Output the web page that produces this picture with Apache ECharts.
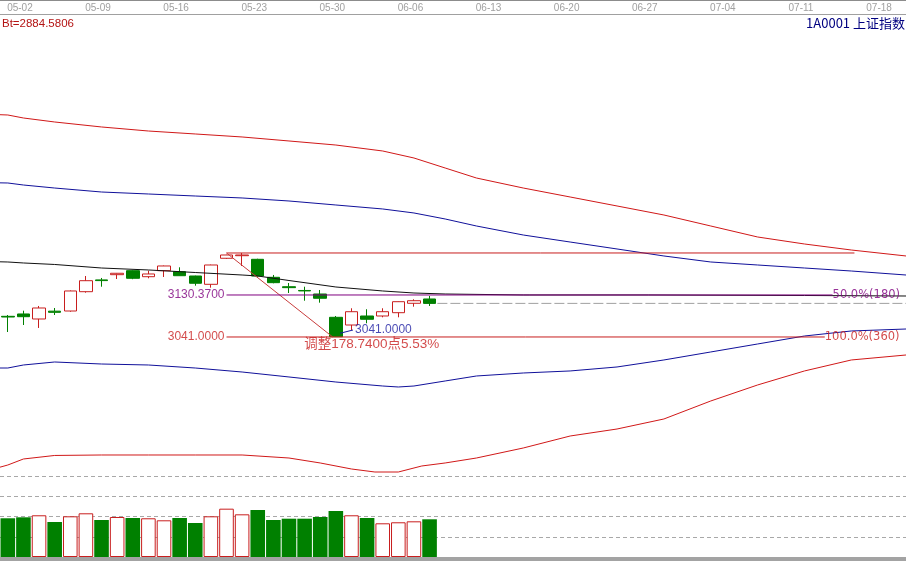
<!DOCTYPE html>
<html><head><meta charset="utf-8">
<script src="https://cdn.jsdelivr.net/npm/echarts@6/dist/echarts.min.js"></script>
<style>html,body{margin:0;padding:0;background:#fff}#c{width:906px;height:561px}</style>
</head><body><div id="c"></div><script>
// ---- categories (trading days; 05-02 is day index 0) ----
const dates = ['04-27','05-02','05-03','05-04','05-07','05-08','05-09','05-10','05-11','05-14','05-15','05-16','05-17','05-18','05-21','05-22','05-23','05-24','05-25','05-28','05-29','05-30','05-31','06-01','06-04','06-05','06-06','06-07','06-08','06-11','06-12','06-13','06-14','06-15','06-18','06-19','06-20','06-21','06-22','06-25','06-26','06-27','06-28','06-29','07-02','07-03','07-04','07-05','07-06','07-09','07-10','07-11','07-12','07-13','07-16','07-17','07-18','07-19'];

// ---- daily candles (04-27 .. 06-07) ----
const opens  = [3085.0,3090.0,3079.3,3096.0,3096.3,3137.4,3162.5,3173.6,3182.1,3169.3,3182.1,3180.0,3170.8,3153.1,3208.5,3214.0,3206.3,3168.0,3148.0,3140.0,3132.5,3082.9,3066.5,3085.7,3085.7,3092.7,3112.7,3121.9];
const closes = [3083.5,3084.2,3102.7,3093.5,3138.9,3160.8,3161.0,3176.6,3165.9,3175.1,3192.1,3171.4,3155.3,3194.2,3215.5,3215.5,3170.8,3156.6,3146.0,3139.0,3123.4,3041.6,3094.8,3078.7,3094.8,3116.1,3118.2,3112.5];
const lows   = [3051.6,3066.5,3060.2,3087.8,3094.8,3135.3,3148.0,3164.4,3164.0,3165.9,3168.7,3171.0,3150.2,3145.9,3207.0,3192.1,3170.0,3155.3,3134.6,3118.2,3114.0,3041.0,3055.9,3070.2,3082.9,3082.9,3105.5,3107.0];
const highs  = [3087.8,3097.0,3107.0,3102.7,3140.0,3170.8,3166.6,3177.2,3183.0,3182.1,3193.0,3189.3,3171.5,3195.0,3216.0,3219.74,3207.5,3173.0,3155.9,3148.0,3141.0,3085.7,3102.1,3100.0,3102.1,3116.5,3121.2,3128.2];
const volumes = [95.6,98.0,103.0,86.4,100.5,107.9,91.4,98.8,96.3,95.6,90.6,96.3,84.0,100.5,119.3,105.4,116.0,91.4,94.6,94.6,98.8,113.6,103.0,96.3,83.2,85.7,88.1,93.1];

// ---- channel lines: [day index, price] ----
const upperRed = [[-1.5,3514],[-1,3513.4],[0,3507.0],[2,3498.5],[5,3487.9],[8,3479.3],[11,3473.0],[14,3466.6],[17,3458.1],[20,3449.5],[23,3436.8],[25,3421.9],[27,3400.6],[29,3379.3],[32,3358.0],[35,3338.9],[38,3319.8],[41,3300.6],[44,3277.2],[47,3253.8],[50,3238.9],[53,3226.1],[56.5,3213.4]];
const upperBlue = [[-1.5,3369],[-1,3368.7],[0,3364.4],[2,3358.0],[5,3349.5],[8,3345.3],[11,3341.0],[14,3336.8],[17,3330.4],[20,3321.9],[23,3313.4],[25,3304.9],[27,3292.1],[29,3277.2],[32,3258.0],[35,3243.1],[38,3228.3],[41,3213.4],[44,3200.6],[47,3194.2],[50,3187.8],[53,3181.4],[56.5,3172.9]];
const midLine = [[-1.5,3201],[-1,3200.6],[0,3198.5],[2,3195.3],[5,3187.8],[8,3183.6],[11,3178.2],[14,3172.9],[15,3170.8],[17,3161.2],[20,3147.4],[23,3138.9],[25,3134.6],[27,3132.5],[32,3130.4],[40,3130.4],[50,3129.3],[56.5,3128.2]];
const lowerBlue = [[-1.5,2975],[-1,2975.0],[0,2981.4],[2,2987.8],[5,2983.5],[8,2981.4],[11,2975.0],[14,2966.5],[17,2955.9],[20,2945.2],[23,2936.7],[24,2934.6],[25,2936.7],[27,2947.4],[29,2958.0],[32,2964.4],[35,2968.7],[38,2977.2],[41,2992.1],[44,3009.1],[47,3026.1],[50,3043.1],[53,3053.8],[56.5,3058.0]];
const lowerRed = [[-1.5,2764],[-1,2768.6],[0,2781.4],[2,2788.9],[5,2789.9],[8,2789.9],[11,2789.9],[14,2789.9],[17,2783.5],[19,2772.9],[21,2760.1],[22.5,2753.7],[24,2753.7],[25.5,2766.5],[27,2772.9],[29,2783.5],[32,2804.8],[35,2830.3],[38,2845.2],[41,2866.5],[44,2904.8],[47,2938.9],[50,2968.7],[53,2992.1],[56.5,3002.7]];

// ---- golden-section levels ----
const levelHigh = 3219.74, levelMid = 3130.37, levelLow = 3041.00;
const highDay = 13, lowDay = 19.8;
const midEndDay = 51.8, lowEndDay = 51.3, highEndDay = 53.2;
const lastCloseStart = 26.5, axisEndDay = 56.5;
const lowMarkFrom = [20.27, 3048.9], lowMarkTo = [21.1, 3055.9];
const btText = 'Bt=2884.5806';
const codeText = '1A0001 上证指数';
const dropText = '调整178.7400点5.53%';
const midPctText = '50.0%(180)', lowPctText = '100.0%(360)';

const RED = '#c81e1e', GREEN = '#008000', BLUE = '#10109a', PURPLE = '#800080', NAVY = '#1a1aa0';

const candleData = opens.map((o, k) => [o, closes[k], lows[k], highs[k]]);
const volData = volumes.map((v, k) => closes[k] >= opens[k]
  ? {value: v, itemStyle: {color: '#fff', borderColor: RED, borderWidth: 1}}
  : {value: v, itemStyle: {color: GREEN, borderColor: GREEN, borderWidth: 0}});

function band(data, color) {
  return {type: 'line', xAxisIndex: 1, yAxisIndex: 0, data: data, symbol: 'none', silent: true,
    lineStyle: {width: 1, color: color}, z: 3, animation: false};
}
function tag(pos, text, position, color, font, size, dist) {
  return {value: pos, label: {show: true, position: position, distance: dist, formatter: text,
    color: color, fontSize: size, fontFamily: font}};
}
const ARIAL = 'Liberation Sans, Arial';
const lastClose = closes[closes.length - 1];

const chart = echarts.init(document.getElementById('c'));
chart.setOption({
  animation: false,
  backgroundColor: '#fff',
  title: [
    {text: btText, left: 2, top: 17, padding: 0, textStyle: {color: '#b41414', fontSize: 11.5, lineHeight: 13, fontWeight: 'normal', fontFamily: ARIAL}},
    {text: codeText, right: 1, top: 15.5, padding: 0, textStyle: {color: '#000080', fontSize: 13, lineHeight: 15, fontWeight: 'normal', fontFamily: 'Noto Sans CJK SC'}}
  ],
  grid: [
    {left: -6.125, right: -1.375, top: 14, height: 462},
    {left: -6.125, right: -1.375, top: 476, bottom: 4}
  ],
  xAxis: [
    {type: 'category', gridIndex: 0, data: dates, position: 'top', boundaryGap: true,
     axisLine: {show: true, lineStyle: {color: '#a0a0a0', width: 1}}, axisTick: {show: false},
     axisLabel: {interval: (i) => (i - 1) % 5 === 0, color: '#a0a0a0', fontSize: 10, lineHeight: 12,
       fontFamily: ARIAL, margin: 0, padding: [0, 7, 0, 0]},
     splitLine: {show: false}},
    {type: 'value', gridIndex: 0, min: -1.5, max: axisEndDay, show: false},
    {type: 'category', gridIndex: 1, data: dates, show: false, boundaryGap: true}
  ],
  yAxis: [
    {type: 'value', gridIndex: 0, min: 2745.2, max: 3728.3, show: false, splitLine: {show: false}},
    {type: 'value', gridIndex: 1, min: 0, max: 200, interval: 50,
     axisLine: {show: false}, axisTick: {show: false}, axisLabel: {show: false},
     splitLine: {show: true, lineStyle: {color: '#a8a8a8', width: 1, type: [4, 3]}}}
  ],
  graphic: [
    {type: 'rect', left: 0, top: 0, shape: {width: 906, height: 1}, style: {fill: '#8c8c8c'}, z: 10},
    {type: 'rect', left: 0, top: 557, shape: {width: 906, height: 4}, style: {fill: '#a3a3a3'}, z: 10}
  ],
  series: [
    {type: 'candlestick', xAxisIndex: 0, yAxisIndex: 0, data: candleData, barWidth: 13, z: 2,
     itemStyle: {color: '#fff', color0: GREEN, borderColor: RED, borderColor0: GREEN, borderWidth: 1}},
    {type: 'bar', xAxisIndex: 2, yAxisIndex: 1, data: volData, barWidth: 14.6, z: 2},
    band(upperRed, '#d01818'),
    band(upperBlue, BLUE),
    band(midLine, '#101010'),
    band(lowerBlue, BLUE),
    band(lowerRed, '#d01818'),
    band([[highDay, levelHigh], [highEndDay, levelHigh]], RED),
    band([[highDay, levelHigh], [lowDay, levelLow]], '#c83c3c'),
    band([[highDay, levelMid], [midEndDay, levelMid]], PURPLE),
    band([[highDay, levelLow], [lowEndDay, levelLow]], RED),
    band([lowMarkFrom, lowMarkTo], NAVY),
    {type: 'line', xAxisIndex: 1, yAxisIndex: 0, symbol: 'none', silent: true, z: 3,
     lineStyle: {width: 1, color: '#a0a0a0', type: [10, 3]},
     data: [[lastCloseStart, lastClose], [axisEndDay, lastClose]]},
    // text tags anchored on the level lines
    {type: 'scatter', xAxisIndex: 1, yAxisIndex: 0, symbolSize: 0, silent: true, z: 6,
     data: [
       tag([highDay, levelMid], levelMid.toFixed(4), 'left', PURPLE, ARIAL, 12, 2),
       tag([highDay, levelLow], levelLow.toFixed(4), 'left', RED, ARIAL, 12, 2),
       tag([midEndDay, levelMid], midPctText, 'right', PURPLE, 'DejaVu Sans', 11.5, 0),
       tag([lowEndDay, levelLow], lowPctText, 'right', RED, 'DejaVu Sans', 11.5, 0),
       tag(lowMarkTo, levelLow.toFixed(4), 'right', NAVY, ARIAL, 12, 2),
       tag([22.3, levelLow], dropText, 'bottom', RED, 'Liberation Sans, Noto Sans CJK SC', 13.5, 1)
     ]}
  ]
});
</script></body></html>
